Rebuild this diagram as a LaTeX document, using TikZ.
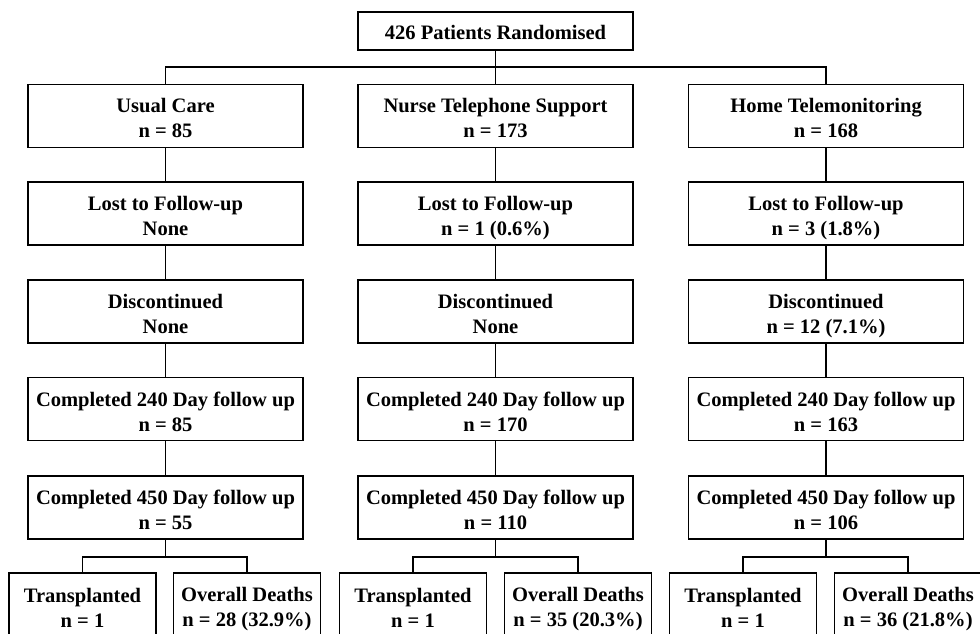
\documentclass[tikz,border=0pt]{standalone}
\usepackage{fontspec}
\setmainfont{Liberation Serif}
\tikzset{
  basebox/.style={draw, line width=1.1pt, align=center, inner sep=0pt,
    minimum width=206pt, font=\bfseries\fontsize{15.4}{18.75}\selectfont,
    execute at end node=\rule[-3pt]{0pt}{3pt}},
  flowbox/.style={basebox, minimum height=47.5pt, execute at begin node=\rule{0pt}{36pt}},
  smallbox/.style={flowbox, minimum width=110.5pt, minimum height=48pt},
  topbox/.style={basebox, minimum height=28.5pt, execute at begin node=\rule{0pt}{16pt}},
  link/.style={line width=1.1pt}
}
\begin{document}
\begin{tikzpicture}[x=0.75pt,y=-0.75pt]
\useasboundingbox (0,0) rectangle (980,634);
\clip (0,0) rectangle (980,634);

\node[topbox] (rand) at (495.5,31) {426 Patients Randomised};

\node[flowbox] (uc) at (165.5,116) {Usual Care\\n = 85};
\node[flowbox] (nts) at (495.5,116) {Nurse Telephone Support\\n = 173};
\node[flowbox] (ht) at (826,116) {Home Telemonitoring\\n = 168};

\node[flowbox] (uclost) at (165.5,213.5) {Lost to Follow-up\\None};
\node[flowbox] (ntslost) at (495.5,213.5) {Lost to Follow-up\\n = 1 (0.6\%)};
\node[flowbox] (htlost) at (826,213.5) {Lost to Follow-up\\n = 3 (1.8\%)};

\node[flowbox] (ucdisc) at (165.5,311.5) {Discontinued\\None};
\node[flowbox] (ntsdisc) at (495.5,311.5) {Discontinued\\None};
\node[flowbox] (htdisc) at (826,311.5) {Discontinued\\n = 12 (7.1\%)};

\node[flowbox] (uctwo) at (165.5,409) {Completed 240 Day follow up\\n = 85};
\node[flowbox] (ntstwo) at (495.5,409) {Completed 240 Day follow up\\n = 170};
\node[flowbox] (httwo) at (826,409) {Completed 240 Day follow up\\n = 163};

\node[flowbox] (ucfour) at (165.5,507.5) {Completed 450 Day follow up\\n = 55};
\node[flowbox] (ntsfour) at (495.5,507.5) {Completed 450 Day follow up\\n = 110};
\node[flowbox] (htfour) at (826,507.5) {Completed 450 Day follow up\\n = 106};

\node[smallbox] (uctx) at (82.5,605) {Transplanted\\n = 1};
\node[smallbox] (ucdth) at (247,605) {Overall Deaths\\n = 28 (32.9\%)};
\node[smallbox] (ntstx) at (413,605) {Transplanted\\n = 1};
\node[smallbox] (ntsdth) at (578,605) {Overall Deaths\\n = 35 (20.3\%)};
\node[smallbox] (httx) at (743,605) {Transplanted\\n = 1};
\node[smallbox] (htdth) at (908,605) {Overall Deaths\\n = 36 (21.8\%)};

\coordinate (split) at (495.5,67);
\coordinate (ucsplit) at (165.5,557);
\coordinate (ntssplit) at (495.5,557);
\coordinate (htsplit) at (826,557);

\draw[link] (rand.south) -- (split) -- (nts.north);
\draw[link] (uc.north) |- (split) -| (ht.north);

\draw[link] (uc) -- (uclost) -- (ucdisc) -- (uctwo) -- (ucfour);
\draw[link] (nts) -- (ntslost) -- (ntsdisc) -- (ntstwo) -- (ntsfour);
\draw[link] (ht) -- (htlost) -- (htdisc) -- (httwo) -- (htfour);

\draw[link] (ucfour.south) -- (ucsplit);
\draw[link] (uctx.north) |- (ucsplit) -| (ucdth.north);
\draw[link] (ntsfour.south) -- (ntssplit);
\draw[link] (ntstx.north) |- (ntssplit) -| (ntsdth.north);
\draw[link] (htfour.south) -- (htsplit);
\draw[link] (httx.north) |- (htsplit) -| (htdth.north);
\end{tikzpicture}
\end{document}
